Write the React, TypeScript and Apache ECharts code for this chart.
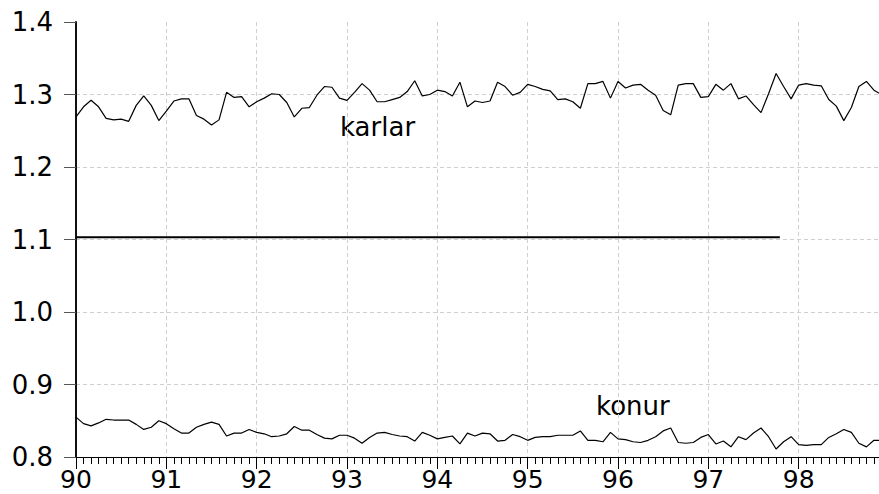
import React, { useEffect, useRef } from "react";
import * as echarts from "echarts";

// Monthly observations, 1990:01 .. 1998:12
const karlar: number[] = [
  1.269, 1.283, 1.292, 1.283, 1.267, 1.265, 1.266, 1.263, 1.285, 1.298, 1.285, 1.264,
  1.277, 1.291, 1.294, 1.294, 1.271, 1.266, 1.258, 1.265, 1.303, 1.296, 1.297, 1.283,
  1.290, 1.295, 1.301, 1.300, 1.289, 1.269, 1.281, 1.282, 1.299, 1.311, 1.310, 1.295,
  1.292, 1.303, 1.315, 1.306, 1.290, 1.290, 1.293, 1.296, 1.304, 1.319, 1.298, 1.300,
  1.306, 1.304, 1.298, 1.317, 1.283, 1.291, 1.289, 1.291, 1.317, 1.311, 1.299, 1.303,
  1.314, 1.311, 1.307, 1.305, 1.293, 1.294, 1.290, 1.281, 1.315, 1.315, 1.318, 1.295,
  1.318, 1.309, 1.313, 1.314, 1.306, 1.299, 1.278, 1.272, 1.313, 1.315, 1.315, 1.296,
  1.297, 1.314, 1.306, 1.315, 1.294, 1.298, 1.286, 1.275, 1.301, 1.329, 1.311, 1.294,
  1.313, 1.315, 1.313, 1.312, 1.293, 1.284, 1.264, 1.282, 1.311, 1.318, 1.306, 1.300,
];

const konur: number[] = [
  0.855, 0.846, 0.843, 0.847, 0.852, 0.851, 0.851, 0.851, 0.845, 0.838, 0.841, 0.850,
  0.846, 0.839, 0.833, 0.833, 0.841, 0.845, 0.848, 0.845, 0.829, 0.833, 0.833, 0.838,
  0.834, 0.832, 0.828, 0.829, 0.832, 0.842, 0.837, 0.837, 0.831, 0.826, 0.825, 0.830,
  0.830, 0.826, 0.819, 0.827, 0.833, 0.834, 0.831, 0.829, 0.828, 0.822, 0.834, 0.830,
  0.825, 0.827, 0.829, 0.818, 0.833, 0.829, 0.833, 0.832, 0.822, 0.823, 0.831, 0.828,
  0.823, 0.827, 0.828, 0.828, 0.830, 0.830, 0.830, 0.836, 0.823, 0.823, 0.821, 0.834,
  0.825, 0.824, 0.821, 0.820, 0.823, 0.828, 0.836, 0.840, 0.820, 0.819, 0.820, 0.827,
  0.831, 0.818, 0.822, 0.814, 0.828, 0.824, 0.833, 0.840, 0.828, 0.811, 0.821, 0.828,
  0.817, 0.816, 0.817, 0.817, 0.827, 0.832, 0.838, 0.834, 0.819, 0.814, 0.823, 0.823,
];

// Horizontal reference line: [start month index, end month index], level
const refLineX: number[] = [0, 93.5];
const refLineLevel = 1.103;

const startYear = 90;
const yTicks: number[] = [0.8, 0.9, 1.0, 1.1, 1.2, 1.3, 1.4];
const seriesLabels: string[] = ["karlar", "konur"];

const FONT = "DejaVu Sans";

export default function App() {
  const ref = useRef<HTMLDivElement>(null);
  useEffect(() => {
    if (!ref.current) return;
    const chart = echarts.init(ref.current, undefined, { renderer: "svg" });
    const months = karlar.length;
    const grid = "#cfcfcf";
    const splitColors = yTicks.map((_, i) => (i === yTicks.length - 1 ? "rgba(0,0,0,0)" : grid));
    chart.setOption({
      animation: false,
      backgroundColor: "#ffffff",
      grid: { left: 76, top: 22, width: 813, height: 435, outerBoundsMode: "none" },
      xAxis: {
        type: "value",
        min: 0,
        max: months,
        interval: 12,
        axisLine: { show: true, lineStyle: { color: "#000", width: 1 } },
        axisTick: { show: true, length: 12, lineStyle: { color: "#000", width: 1 } },
        minorTick: { show: true, splitNumber: 12, length: 7, lineStyle: { color: "#000", width: 1 } },
        axisLabel: {
          margin: 10,
          color: "#000",
          fontFamily: FONT,
          fontSize: 25,
          lineHeight: 24,
          formatter: (v: number) => (v >= months ? "" : String(startYear + Math.round(v / 12))),
        },
        splitLine: { show: true, lineStyle: { color: grid, type: [4, 3], width: 1 } },
      },
      yAxis: {
        type: "value",
        min: yTicks[0],
        max: yTicks[yTicks.length - 1],
        interval: 0.1,
        axisLine: { show: true, lineStyle: { color: "#111", width: 2 } },
        axisTick: { show: true, length: 12, lineStyle: { color: "#555", width: 1 } },
        axisLabel: {
          margin: 23,
          color: "#000",
          fontFamily: FONT,
          fontSize: 26,
          formatter: (v: number) => v.toFixed(1),
        },
        splitLine: { show: true, lineStyle: { color: splitColors, type: [4, 3], width: 1 } },
      },
      series: [
        {
          name: seriesLabels[0],
          type: "line",
          data: karlar.map((v, i) => [i, v]),
          symbol: "none",
          lineStyle: { color: "#000", width: 1.2 },
          clip: true,
        },
        {
          name: seriesLabels[1],
          type: "line",
          data: konur.map((v, i) => [i, v]),
          symbol: "none",
          lineStyle: { color: "#000", width: 1.2 },
          clip: true,
        },
        {
          name: "ref",
          type: "line",
          data: refLineX.map((x) => [x, refLineLevel]),
          symbol: "none",
          lineStyle: { color: "#000", width: 2 },
        },
      ],
      graphic: [
        {
          type: "text",
          left: 340,
          top: 114,
          style: { text: seriesLabels[0], font: `26px '${FONT}'`, fill: "#000" },
        },
        {
          type: "text",
          left: 596,
          top: 393,
          style: { text: seriesLabels[1], font: `26px '${FONT}'`, fill: "#000" },
        },
      ],
    });
    return () => chart.dispose();
  }, []);
  return (
    <div
      style={{
        position: "fixed",
        left: 0,
        top: 0,
        width: 879,
        height: 494,
        overflow: "hidden",
        background: "#fff",
      }}
    >
      <div ref={ref} style={{ width: 900, height: 494 }} />
    </div>
  );
}
